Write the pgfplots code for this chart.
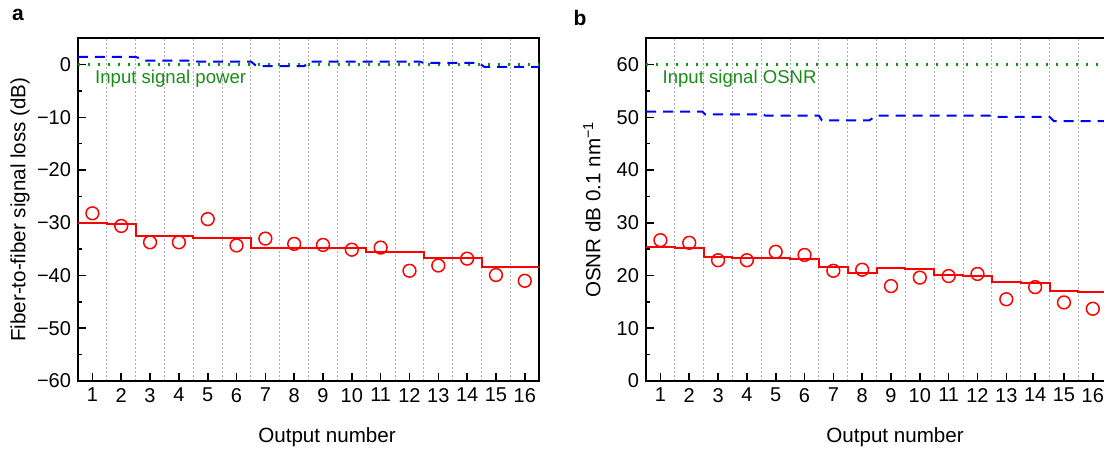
\documentclass[border=0pt]{standalone}
\usepackage{fontspec}
\setmainfont{Liberation Sans}
\usepackage{pgfplots}
\pgfplotsset{compat=1.18}

\definecolor{rd}{RGB}{255,0,0}
\definecolor{bl}{RGB}{0,0,255}
\definecolor{gr}{RGB}{0,160,0}
\definecolor{grtxt}{RGB}{25,140,25}

\pgfplotsset{
  panel/.style={
    scale only axis, width=230.6pt, height=171.4pt,
    xmin=0.5, xmax=16.5,
    xtick={1,...,16},
    minor xtick={1.5,2.5,...,15.5},
    xminorgrids,
    minor x grid style={gray!65, dash pattern=on 1pt off 1pt, line width=0.5pt},
    minor x tick style={draw=none},
    tick align=inside, xtick pos=bottom, ytick pos=left,
    major tick length=4pt, minor tick length=2pt,
    minor y tick num=1,
    axis line style={line width=1pt},
    tick style={line width=0.8pt, black},
    /pgf/number format/assume math mode=true,
    ticklabel style={font=\fontsize{10}{12}\selectfont},
    label style={font=\fontsize{10.3}{12}\selectfont},
    xlabel={Output number},
    xlabel style={at={(axis description cs:0.54,0)}, anchor=center, yshift=-28pt},
  },
  stepline/.style={const plot, rd, line width=1pt, mark=none},
  pts/.style={only marks, mark=o, mark size=3.2pt, rd, mark options={line width=0.75pt}},
  blueline/.style={bl, line width=1pt, dash pattern=on 5pt off 3.5pt, mark=none},
  greenline/.style={gr, line width=1.2pt, dash pattern=on 1pt off 4pt, mark=none},
}

\begin{document}
\begin{tikzpicture}
% panel a
\begin{axis}[panel,
    ymin=-60, ymax=5,
    ytick={-60,-50,...,0},
    yticklabels={−60,−50,−40,−30,−20,−10,0},
    ylabel={Fiber-to-fiber signal loss (dB)},
    ylabel style={at={([xshift=-29pt]axis description cs:0,0.5)}, anchor=center}]
\addplot[greenline] coordinates {(0.5,0) (16.5,0)};
\addplot[blueline] coordinates {
    (0.5,1.45) (2.5,1.45) (2.85,0.76) (4.5,0.76) (4.65,0.57) (6.5,0.57)
    (6.7,-0.31) (8.35,-0.31) (8.5,0.57) (12.35,0.57) (12.5,0.31)
    (14.4,0.31) (14.6,-0.44) (16.5,-0.44)};
\addplot[stepline] coordinates {
    (0.5,-30.0) (1.5,-30.25) (2.5,-32.5) (3.5,-32.5) (4.5,-32.9) (5.5,-32.9)
    (6.5,-34.7) (7.5,-34.7) (8.5,-34.7) (9.5,-34.7) (10.5,-35.6) (11.5,-35.6)
    (12.5,-36.6) (13.5,-36.6) (14.5,-38.4) (15.5,-38.4) (16.5,-38.4)};
\addplot[pts] coordinates {
    (1,-28.2) (2,-30.6) (3,-33.7) (4,-33.7) (5,-29.3) (6,-34.3) (7,-33.0) (8,-34.0)
    (9,-34.2) (10,-35.1) (11,-34.7) (12,-39.1) (13,-38.1) (14,-36.8) (15,-39.9) (16,-41.0)};
\node[anchor=base west, text=grtxt, font=\fontsize{9.3}{11}\selectfont]
    at (axis cs:0.85,-3.6) {Input signal power};
\end{axis}

% panel b
\begin{axis}[panel, at={(284pt,0pt)},
    ymin=0, ymax=65,
    ytick={0,10,...,60},
    ylabel={OSNR dB 0.1 nm\textsuperscript{−1}},
    ylabel style={at={([xshift=-27pt]axis description cs:0,0.5)}, anchor=center}]
\addplot[greenline] coordinates {(0.5,60) (16.5,60)};
\addplot[blueline] coordinates {
    (0.5,51.1) (2.45,51.1) (2.55,50.57) (4.5,50.57) (4.65,50.32) (6.5,50.32)
    (6.6,49.43) (8.25,49.43) (8.5,50.32) (12.5,50.32) (12.65,50.1)
    (14.5,50.1) (14.65,49.27) (16.5,49.27)};
\addplot[stepline] coordinates {
    (0.5,25.4) (1.5,25.2) (2.5,23.57) (3.5,23.38) (4.5,23.31) (5.5,23.18)
    (6.5,21.66) (7.5,20.45) (8.5,21.47) (9.5,21.27) (10.5,20.06) (11.5,19.87)
    (12.5,18.85) (13.5,18.66) (14.5,17.07) (15.5,16.94) (16.5,16.94)};
\addplot[pts] coordinates {
    (1,26.7) (2,26.2) (3,22.9) (4,22.9) (5,24.5) (6,23.9) (7,20.9) (8,21.1)
    (9,18.0) (10,19.6) (11,19.9) (12,20.3) (13,15.5) (14,17.8) (15,14.9) (16,13.7)};
\node[anchor=base west, text=grtxt, font=\fontsize{9.3}{11}\selectfont]
    at (axis cs:0.83,56.4) {Input signal OSNR};
\end{axis}

\node[font=\bfseries\fontsize{10.5}{12}\selectfont] at (-30pt,183pt) {a};
\node[font=\bfseries\fontsize{10.5}{12}\selectfont] at (251pt,181.5pt) {b};

\pgfresetboundingbox
\path[use as bounding box] (-39pt,-34.5pt) rectangle (513pt,190.5pt);
\end{tikzpicture}
\end{document}
